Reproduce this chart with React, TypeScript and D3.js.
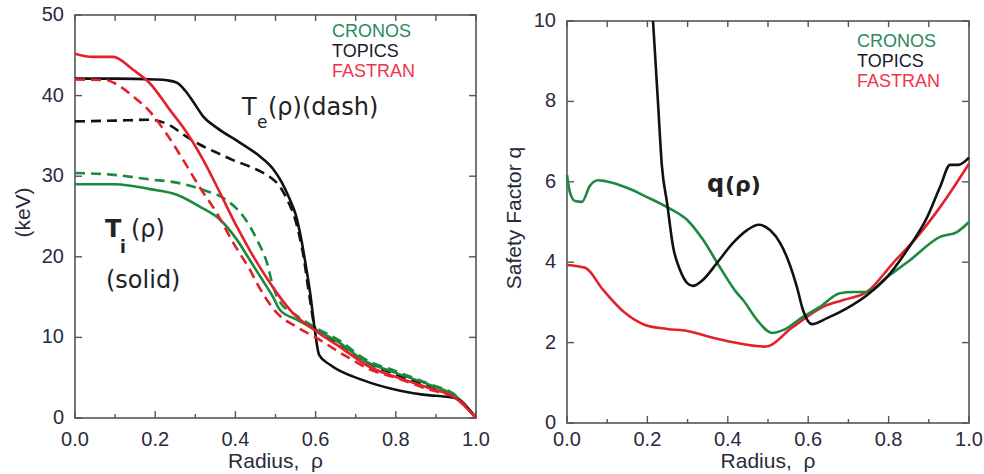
import React, { useEffect, useRef } from 'react';
import * as d3 from 'd3';

// temperature profiles, [rho, keV]
const topicsTi: [number, number][] = [
  [0, 42.1], [0.1, 42.1], [0.2, 42.0], [0.23, 41.9], [0.254, 41.6], [0.275, 40.6], [0.294, 39.3],
  [0.32, 37.4], [0.354, 36.0], [0.41, 34.2], [0.46, 32.5], [0.494, 30.9], [0.515, 29.3], [0.535, 27.2],
  [0.55, 25.3], [0.565, 22.0], [0.576, 18.8], [0.587, 15.3], [0.597, 11.3], [0.609, 7.8], [0.636, 6.6],
  [0.718, 4.7], [0.8, 3.5], [0.868, 2.9], [0.945, 2.5], [1.0, 0],
];
const topicsTe: [number, number][] = [
  [0, 36.8], [0.1, 36.9], [0.187, 37.0], [0.237, 36.3], [0.275, 35.0], [0.312, 33.9], [0.35, 33.0],
  [0.394, 32.0], [0.454, 30.8], [0.486, 29.9], [0.511, 28.7], [0.53, 27.0], [0.55, 24.5], [0.57, 20.0],
  [0.585, 15.0], [0.6, 11.0], [0.62, 10.3], [0.66, 9.2], [0.72, 7.1], [0.8, 5.4], [0.885, 3.9],
  [0.95, 2.6], [1.0, 0],
];
const fastranTi: [number, number][] = [
  [0, 45.2], [0.045, 44.8], [0.095, 44.8], [0.145, 43.2], [0.187, 41.5], [0.237, 38.2], [0.279, 35.4],
  [0.32, 32.0], [0.362, 27.9], [0.404, 23.7], [0.436, 20.8], [0.479, 17.3], [0.511, 15.0], [0.54, 13.2],
  [0.603, 10.7], [0.661, 8.8], [0.736, 6.3], [0.8, 5.1], [0.885, 3.7], [0.945, 2.6], [1.0, 0],
];
const fastranTe: [number, number][] = [
  [0, 42.0], [0.08, 41.9], [0.1, 41.5], [0.145, 39.9], [0.187, 38.0], [0.229, 35.2], [0.27, 32.0],
  [0.31, 28.7], [0.354, 25.4], [0.395, 21.7], [0.436, 18.4], [0.454, 16.7], [0.469, 15.4], [0.504, 13.0],
  [0.553, 11.3], [0.603, 9.9], [0.678, 7.6], [0.736, 6.0], [0.8, 5.0], [0.885, 3.5], [0.95, 2.5], [1.0, 0],
];
const cronosTi: [number, number][] = [
  [0, 29.0], [0.1, 29.0], [0.187, 28.4], [0.254, 27.7], [0.312, 26.2], [0.362, 24.6], [0.404, 22.1],
  [0.436, 19.6], [0.469, 17.0], [0.494, 15.0], [0.511, 13.4], [0.553, 12.2], [0.603, 10.9], [0.661, 9.3],
  [0.718, 7.2], [0.8, 5.6], [0.885, 4.1], [0.952, 2.6], [1.0, 0],
];
const cronosTe: [number, number][] = [
  [0, 30.4], [0.09, 30.2], [0.187, 29.6], [0.254, 29.2], [0.32, 28.3], [0.379, 27.0], [0.42, 25.0],
  [0.454, 22.1], [0.479, 19.2], [0.494, 16.3], [0.51, 14.5], [0.55, 12.8], [0.6, 11.2], [0.66, 9.6],
  [0.72, 7.4], [0.8, 5.8], [0.885, 4.2], [0.952, 2.7], [1.0, 0],
];

// safety factor profiles, [rho, q]
const cronosQ: [number, number][] = [
  [0, 6.17], [0.007, 5.75], [0.02, 5.52], [0.037, 5.5], [0.057, 5.9], [0.077, 6.04], [0.094, 6.02],
  [0.149, 5.85], [0.199, 5.62], [0.249, 5.37], [0.299, 5.05], [0.339, 4.55], [0.38, 3.88], [0.423, 3.23],
  [0.438, 3.06], [0.473, 2.56], [0.51, 2.24], [0.537, 2.31], [0.587, 2.64], [0.629, 2.89], [0.679, 3.23],
  [0.711, 3.26], [0.746, 3.26], [0.796, 3.63], [0.853, 4.05], [0.928, 4.63], [0.97, 4.75], [1.0, 5.0],
];
const topicsQ: [number, number][] = [
  [0.214, 10], [0.226, 8.03], [0.236, 6.4], [0.249, 5.47], [0.264, 4.38], [0.281, 3.81], [0.299, 3.48],
  [0.313, 3.41], [0.338, 3.56], [0.373, 3.98], [0.413, 4.48], [0.448, 4.8], [0.477, 4.93], [0.505, 4.8],
  [0.53, 4.48], [0.55, 4.05], [0.572, 3.38], [0.587, 2.81], [0.609, 2.46], [0.647, 2.61], [0.697, 2.86],
  [0.746, 3.18], [0.796, 3.63], [0.846, 4.3], [0.896, 5.12], [0.928, 5.87], [0.953, 6.42], [0.973, 6.42],
  [1.0, 6.6],
];
const fastranQ: [number, number][] = [
  [0, 3.93], [0.045, 3.86], [0.09, 3.31], [0.144, 2.74], [0.194, 2.44], [0.249, 2.34], [0.299, 2.29],
  [0.356, 2.14], [0.413, 2.01], [0.493, 1.9], [0.562, 2.39], [0.637, 2.89], [0.687, 3.06], [0.746, 3.26],
  [0.811, 3.98], [0.871, 4.63], [0.928, 5.37], [1.0, 6.45],
];

const codes = ['CRONOS', 'TOPICS', 'FASTRAN'];
const xTicks = [0, 0.2, 0.4, 0.6, 0.8, 1.0];
const tempTicks = [0, 10, 20, 30, 40, 50];
const qTicks = [0, 2, 4, 6, 8, 10];

const GREEN = '#1b8a3e';
const RED = '#e5202b';
const BLACK = '#111';
const legendColors = ['#2a8a5c', '#1a1a2a', '#f0334d'];
const TICK_FONT = 'Liberation Sans, Arial, sans-serif';
const NOTE_FONT = 'DejaVu Sans, Verdana, sans-serif';

const App = () => {
  const svgRef = useRef<SVGSVGElement>(null);

  useEffect(() => {
    const svg = d3.select(svgRef.current);
    svg.selectAll('*').remove();

    const drawPanel = (opts: {
      left: number; right: number; top: number; bottom: number; yMax: number; yTicks: number[];
      yLabel: string; yLabelX: number; legendX: number; legendY: number;
      series: { data: [number, number][]; color: string; dash?: boolean }[];
    }) => {
      const x = d3.scaleLinear().domain([0, 1]).range([opts.left, opts.right]);
      const y = d3.scaleLinear().domain([0, opts.yMax]).range([opts.bottom, opts.top]);
      const g = svg.append('g');
      const axisColor = '#555';

      // frame
      g.append('rect')
        .attr('x', opts.left).attr('y', opts.top)
        .attr('width', opts.right - opts.left).attr('height', opts.bottom - opts.top)
        .attr('fill', 'none').attr('stroke', axisColor).attr('stroke-width', 1.6);

      // x ticks every 0.1
      d3.range(0, 11).forEach((i) => {
        const xv = x(i / 10);
        const major = i % 2 === 0;
        g.append('line').attr('x1', xv).attr('x2', xv)
          .attr('y1', opts.bottom).attr('y2', opts.bottom - (major ? 7 : 4))
          .attr('stroke', axisColor).attr('stroke-width', 1.4);
        g.append('line').attr('x1', xv).attr('x2', xv)
          .attr('y1', opts.top).attr('y2', opts.top + 6)
          .attr('stroke', axisColor).attr('stroke-width', 1.4);
      });
      opts.yTicks.forEach((t) => {
        const yv = y(t);
        g.append('line').attr('x1', opts.left).attr('x2', opts.left + 7).attr('y1', yv).attr('y2', yv)
          .attr('stroke', axisColor).attr('stroke-width', 1.4);
        g.append('line').attr('x1', opts.right).attr('x2', opts.right - 7).attr('y1', yv).attr('y2', yv)
          .attr('stroke', axisColor).attr('stroke-width', 1.4);
        g.append('text').attr('x', opts.left - 11).attr('y', yv + 6)
          .attr('text-anchor', 'end').attr('font-family', TICK_FONT).attr('font-size', 20)
          .attr('fill', '#2a2a3a').text(String(t));
      });
      xTicks.forEach((t) => {
        g.append('text').attr('x', x(t)).attr('y', 446)
          .attr('text-anchor', 'middle').attr('font-family', TICK_FONT).attr('font-size', 20)
          .attr('fill', '#2a2a3a').text(t.toFixed(1));
      });

      g.append('text').attr('x', (opts.left + opts.right) / 2).attr('y', 468)
        .attr('text-anchor', 'middle').attr('font-family', TICK_FONT).attr('font-size', 21)
        .attr('fill', '#2a2a3a').attr('xml:space', 'preserve').text('Radius,  ρ');

      g.append('text')
        .attr('transform', `translate(${opts.yLabelX},${(opts.top + opts.bottom) / 2 - 4}) rotate(-90)`)
        .attr('text-anchor', 'middle').attr('font-family', TICK_FONT).attr('font-size', 21)
        .attr('fill', '#2a2a3a').text(opts.yLabel);

      const line = d3.line<[number, number]>()
        .x((d) => x(d[0])).y((d) => y(d[1]))
        .curve(d3.curveMonotoneX);

      opts.series.forEach((s) => {
        g.append('path').datum(s.data).attr('d', line)
          .attr('fill', 'none').attr('stroke', s.color).attr('stroke-width', 2.6)
          .attr('stroke-linejoin', 'round')
          .attr('stroke-dasharray', s.dash ? '10,6' : null);
      });

      codes.forEach((c, i) => {
        g.append('text').attr('x', opts.legendX).attr('y', opts.legendY + i * 20)
          .attr('font-family', TICK_FONT).attr('font-size', 18)
          .attr('fill', legendColors[i]).text(c);
      });
      return g;
    };

    const left = drawPanel({
      left: 75, right: 476, top: 15, bottom: 418, yMax: 50, yTicks: tempTicks,
      yLabel: '(keV)', yLabelX: 30, legendX: 332, legendY: 37,
      series: [
        { data: topicsTe, color: BLACK, dash: true },
        { data: cronosTe, color: GREEN, dash: true },
        { data: cronosTi, color: GREEN },
        { data: topicsTi, color: BLACK },
        { data: fastranTe, color: RED, dash: true },
        { data: fastranTi, color: RED },
      ],
    });

    const right = drawPanel({
      left: 567, right: 969, top: 21, bottom: 423, yMax: 10, yTicks: qTicks,
      yLabel: 'Safety Factor q', yLabelX: 521, legendX: 857, legendY: 47,
      series: [
        { data: fastranQ, color: RED },
        { data: cronosQ, color: GREEN },
        { data: topicsQ, color: BLACK },
      ],
    });

    // annotations
    const te = left.append('text').attr('font-family', NOTE_FONT).attr('font-size', 24).attr('fill', '#222');
    te.append('tspan').attr('x', 242).attr('y', 115).text('T');
    te.append('tspan').attr('x', 257).attr('y', 128).attr('font-size', 17).text('e');
    te.append('tspan').attr('x', 268).attr('y', 115).text('(ρ)(dash)');

    const ti = left.append('text').attr('font-family', NOTE_FONT).attr('font-size', 24).attr('fill', '#222');
    ti.append('tspan').attr('x', 105).attr('y', 237).attr('font-weight', 'bold').text('T');
    ti.append('tspan').attr('x', 120).attr('y', 253).attr('font-size', 17).attr('font-weight', 'bold').text('i');
    ti.append('tspan').attr('x', 131).attr('y', 237).text('(ρ)');
    left.append('text').attr('x', 106).attr('y', 288).attr('font-family', NOTE_FONT)
      .attr('font-size', 24).attr('fill', '#222').text('(solid)');

    const q = right.append('text').attr('font-family', NOTE_FONT).attr('fill', '#222').attr('font-weight', 'bold');
    q.append('tspan').attr('x', 707).attr('y', 192).attr('font-size', 24).text('q');
    q.append('tspan').attr('x', 725).attr('y', 192).attr('font-size', 22).text('(ρ)');
  }, []);

  return (
    <svg ref={svgRef} width={984} height={474}
      style={{ position: 'absolute', left: 0, top: 0, background: '#fff' }} />
  );
};

export default App;
